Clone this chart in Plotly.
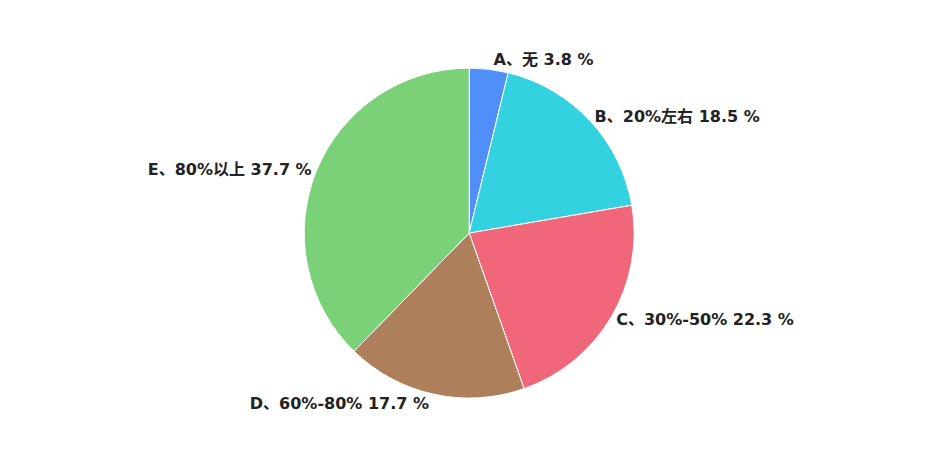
import plotly.graph_objects as go

labels = ["A、无", "B、20%左右", "C、30%-50%", "D、60%-80%", "E、80%以上"]
values = [3.8, 18.5, 22.3, 17.7, 37.7]
colors = ["#4f8ff7", "#34d1e0", "#f0677a", "#ad7f5a", "#7ad177"]

fig = go.Figure(go.Pie(
    labels=labels, values=values, sort=False, direction="clockwise", rotation=0,
    marker=dict(colors=colors, line=dict(color="white", width=1)),
    textposition="outside", texttemplate="<b>%{label} %{value} %</b>",
    textfont=dict(family="DejaVu Sans, Noto Sans CJK SC", size=16, color="#222"),
    showlegend=False, hoverinfo="label+value",
    domain=dict(x=[0.2, 0.778], y=[0.137, 0.867]),
))
fig.update_layout(width=926, height=452, margin=dict(l=0, r=0, t=0, b=0),
                  paper_bgcolor="white")
fig.write_html("out.html")
